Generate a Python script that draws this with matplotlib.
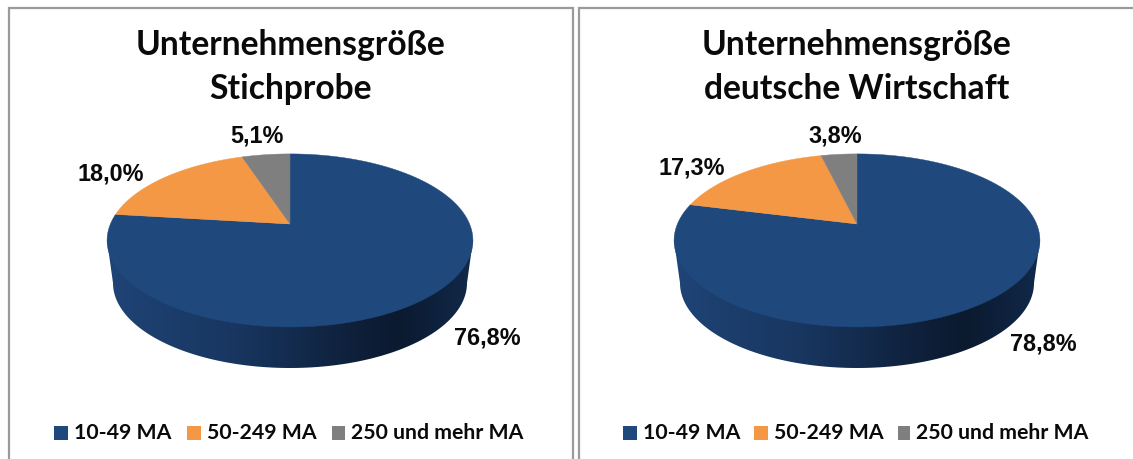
import numpy as np
import matplotlib
matplotlib.use("Agg")
import matplotlib.pyplot as plt
from matplotlib.colors import LinearSegmentedColormap
from matplotlib.patches import Polygon, Rectangle

categories = ["10-49 MA", "50-249 MA", "250 und mehr MA"]
colors = ["#1f497d", "#f59845", "#7f7f7f"]
values_left = [76.8, 18.0, 5.1]
values_right = [78.8, 17.3, 3.8]
labels_left = ["76,8%", "18,0%", "5,1%"]
labels_right = ["78,8%", "17,3%", "3,8%"]
title_left = ["Unternehmensgröße", "Stichprobe"]
title_right = ["Unternehmensgröße", "deutsche Wirtschaft"]

W, H = 1133, 459
TITLE_FONT = "Lato"
LABEL_FONT = "Liberation Sans"
BORDER = "#9a9a9a"

side_cmap = LinearSegmentedColormap.from_list(
    "side", [(0, "#1f4476"), (0.35, "#183660"), (0.72, "#0d1d35"), (0.8, "#0b1a2f"), (1, "#11294a")]
)

# tilted disc: unit circle seen in perspective, so the pie centre is above the ellipse centre
K = 0.19
A = 83.4
B = 179.6
CY = 224


def project(cx, theta):
    # theta clockwise from 12 o'clock
    X, Y = np.sin(theta), np.cos(theta)
    d = 1 + K * Y
    return cx + B * X / d, CY - A * Y / d


def slice_poly(ax, cx, start, stop, color, z):
    th = np.linspace(start, stop, 200)
    x, y = project(cx, th)
    pts = np.column_stack([np.r_[cx, x], np.r_[CY, y]])
    ax.add_patch(Polygon(pts, closed=True, fc=color, ec=color, lw=0.3, zorder=z))


def draw_pie(ax, cx, values, labels, label_pos):
    # side wall, below the top face
    th = np.linspace(np.pi / 2, 3 * np.pi / 2, 200)
    bx = cx + 177 * np.sin(th)
    by = 283 - 85 * np.cos(th)
    pts = np.column_stack([np.r_[cx + 183, bx, cx - 183], np.r_[240, by, 240]])
    wall = Polygon(pts, closed=True, fc="none", ec="none")
    ax.add_patch(wall)
    im = ax.imshow(
        np.linspace(0, 1, 256).reshape(1, -1),
        extent=[cx - 184, cx + 184, 370, 238],
        cmap=side_cmap,
        aspect="auto",
        zorder=2,
    )
    im.set_clip_path(wall)

    # top face
    fractions = np.array(values) / sum(values)
    edges = np.r_[0, np.cumsum(fractions)] * 2 * np.pi
    for i in range(len(values)):
        slice_poly(ax, cx, edges[i], edges[i + 1], colors[i], 3 + i)

    for text, (lx, ly) in zip(labels, label_pos):
        ax.text(lx, ly, text, family=LABEL_FONT, weight="bold", fontsize=16.8,
                ha="center", va="baseline", color="#0a0a0a", zorder=8)


def draw_legend(ax, squares, text_x):
    for i, cat in enumerate(categories):
        x0, x1 = squares[i]
        ax.add_patch(Rectangle((x0, 426), x1 - x0, 14, fc=colors[i], ec="none", zorder=5))
        ax.text(text_x[i], 439, cat, family=TITLE_FONT, weight="bold", fontsize=15.3,
                ha="left", va="baseline", color="#0a0a0a")


def draw_title(ax, cx, lines):
    for line, base in zip(lines, [55, 99]):
        ax.text(cx, base, line, family=TITLE_FONT, weight="bold", fontsize=24.2,
                ha="center", va="baseline", color="#0a0a0a")


fig = plt.figure(figsize=(W / 100, H / 100), dpi=100, facecolor="white")
ax = fig.add_axes([0, 0, 1, 1])

# panel borders, open at the bottom and right
ax.plot([9, 9, 573, 573], [H, 8, 8, H], color=BORDER, lw=1.6, solid_joinstyle="miter")
ax.plot([579, 579, W], [H, 8, 8], color=BORDER, lw=1.6, solid_joinstyle="miter")

draw_title(ax, 290, title_left)
draw_title(ax, 857, title_right)
draw_pie(ax, 290, values_left, labels_left, [(487, 344), (111, 180), (257, 142)])
draw_pie(ax, 857, values_right, labels_right, [(1043, 350), (692, 174), (835, 142)])
draw_legend(ax, [(54, 68), (187, 201), (332, 345)], [74, 207, 351])
draw_legend(ax, [(622.5, 637), (754, 768), (897.5, 910)], [643, 773.5, 916])

ax.set_xlim(0, W)
ax.set_ylim(H, 0)
ax.axis("off")

fig.savefig("out.png", dpi=100)
